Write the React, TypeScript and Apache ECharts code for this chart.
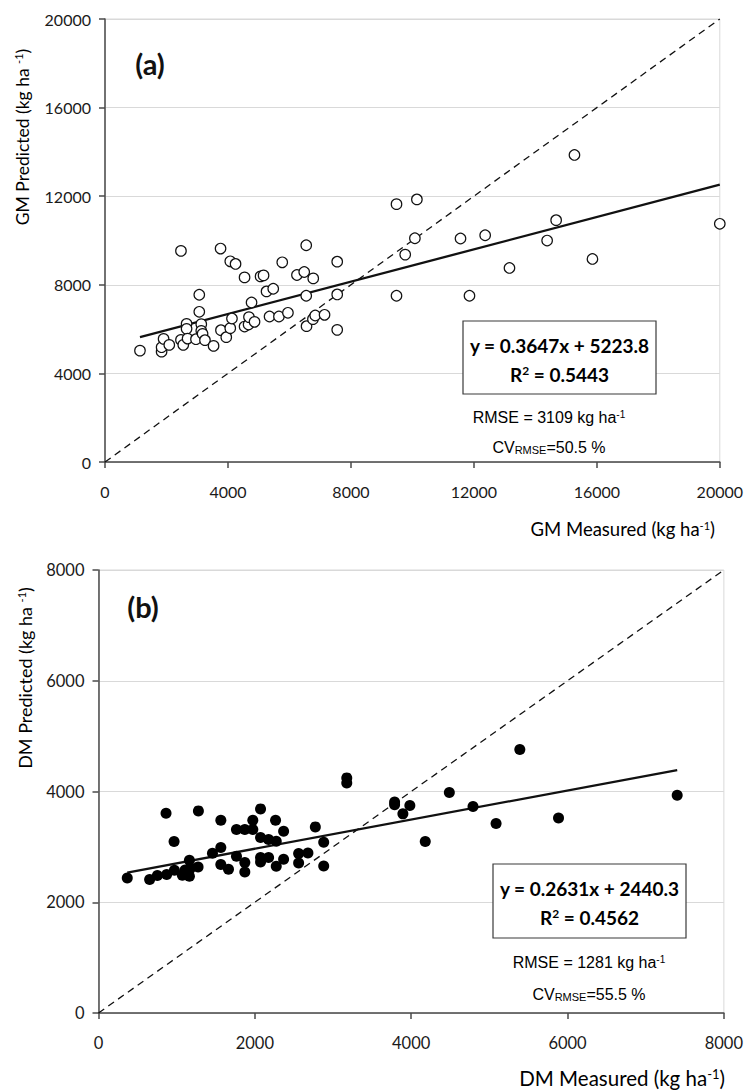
import React, { useEffect, useRef } from "react";
import * as echarts from "echarts";

// (a) Grain mass (GM), kg ha-1
const gmMeasured = [
  1138, 1841, 1841, 1906, 2091, 2471, 2471, 2546, 2654, 2654, 2686, 2959, 3067, 3067, 3132, 3132, 3174,
  3252, 3532, 3759, 3772, 3945, 4075, 4075, 4130, 4247, 4540, 4540, 4670, 4683, 4767, 4865, 5060, 5158,
  5255, 5473, 5353, 5658, 5766, 5951, 6244, 6481, 6546, 6546, 6556, 6774, 6764, 6839, 7142, 7554, 7554,
  7554, 9483, 9483, 9766, 10081, 10146, 11565, 11857, 12367, 13158, 14383, 14676, 15272, 15857, 20000,
];
const gmPredicted = [
  5028, 4983, 5183, 5558, 5287, 9531, 5513, 5287, 6238, 6011, 5572, 5545, 7551, 6781, 6224, 5921, 5785,
  5500, 5242, 9636, 5952, 5636, 9060, 6043, 6478, 8942, 8335, 6115, 6206, 6541, 7203, 6328, 8380, 8425,
  7701, 7823, 6568, 6568, 9015, 6736, 8443, 8579, 9785, 7506, 6133, 8289, 6450, 6613, 6645, 9045, 7565,
  5966, 11642, 7506, 9363, 10102, 11855, 10089, 7506, 10238, 8761, 9998, 10918, 13862, 9167, 10754,
];

// (b) Dry matter (DM), kg ha-1
const dmMeasured = [
  368, 654, 753, 864, 872, 967, 971, 1073, 1108, 1163, 1163, 1176, 1278, 1274, 1458, 1565, 1565, 1565,
  1663, 1765, 1765, 1872, 1872, 1872, 1974, 1974, 2073, 2073, 2073, 2073, 2176, 2176, 2265, 2274, 2274,
  2368, 2368, 2560, 2560, 2679, 2774, 2881, 2881, 3176, 3176, 3788, 3788, 3894, 3983, 4180, 4488, 4791,
  5086, 5390, 5885, 7403,
];
const dmPredicted = [
  2439, 2410, 2482, 3608, 2500, 3097, 2578, 2488, 2584, 2759, 2470, 2614, 3650, 2638, 2885, 3482, 2988,
  2681, 2596, 3313, 2831, 3313, 2717, 2548, 3482, 3313, 3686, 3169, 2807, 2728, 3133, 2807, 3482, 3102,
  2650, 3283, 2777, 2879, 2710, 2891, 3361, 3084, 2656, 4246, 4155, 3812, 3760, 3596, 3747, 3097, 3982,
  3729, 3422, 4759, 3523, 3933,
];

const gmAxis = { min: 0, max: 20000, interval: 4000 };
const dmAxis = { min: 0, max: 8000, interval: 2000 };

const gmFit = { slope: 0.3647, intercept: 5223.8, r2: "0.5443", rmse: "3109", cv: "50.5" };
const dmFit = { slope: 0.2631, intercept: 2440.3, r2: "0.4562", rmse: "1281", cv: "55.5" };

const AXIS_COLOR = "#4a4a4a";
const GRID_COLOR = "#d9d9d9";
const LABEL_FONT = "Lato";
const STAT_FONT = "Liberation Sans";

function fitLine(xs: number[], fit: { slope: number; intercept: number }) {
  const x0 = Math.min(...xs);
  const x1 = Math.max(...xs);
  return [
    [x0, fit.slope * x0 + fit.intercept],
    [x1, fit.slope * x1 + fit.intercept],
  ];
}

function makeAxis(range: { min: number; max: number; interval: number }, gridIndex: number, isX: boolean, fontSize: number) {
  return {
    type: "value",
    gridIndex,
    min: range.min,
    max: range.max,
    interval: range.interval,
    axisLine: { show: true, onZero: false, lineStyle: { color: AXIS_COLOR, width: 1.5 } },
    axisTick: { show: true, inside: false, length: 6, lineStyle: { color: AXIS_COLOR, width: 1.5 } },
    axisLabel: {
      color: "#1a1a1a",
      fontFamily: LABEL_FONT,
      fontSize,
      margin: isX ? 21 : 14,
      formatter: (v: number) => String(v),
    },
    splitLine: isX ? { show: false } : { show: true, lineStyle: { color: GRID_COLOR, width: 1 } },
  };
}

const nameRich = (size: number) => ({
  n: { fontFamily: LABEL_FONT, fontSize: size, color: "#1a1a1a" },
  s: { fontFamily: LABEL_FONT, fontSize: Math.round(size * 0.62), color: "#1a1a1a", verticalAlign: "top" },
});

const statRich = {
  n: { fontFamily: STAT_FONT, fontSize: 16, color: "#1a1a1a" },
  s: { fontFamily: STAT_FONT, fontSize: 10, color: "#1a1a1a", verticalAlign: "top" },
  d: { fontFamily: STAT_FONT, fontSize: 11, color: "#1a1a1a", verticalAlign: "bottom" },
};

const eqRich = {
  b: { fontFamily: LABEL_FONT, fontSize: 19, fontWeight: "bold", color: "#111" },
  s: { fontFamily: LABEL_FONT, fontSize: 12, fontWeight: "bold", color: "#111", verticalAlign: "top" },
};

function panelGraphics(p: {
  tag: string;
  tagX: number;
  tagY: number;
  box: { x: number; y: number; w: number; h: number };
  fit: { slope: number; intercept: number; r2: string; rmse: string; cv: string };
  statX: number;
  rmseY: number;
  cvY: number;
  yName: string;
  yNameX: number;
  yNameY: number;
  yNameSize: number;
  xName: string;
  xNameRight: number;
  xNameY: number;
  xNameSize: number;
}) {
  const cx = p.box.x + p.box.w / 2;
  return [
    {
      type: "text",
      x: p.tagX,
      y: p.tagY,
      style: {
        text: p.tag,
        fontFamily: LABEL_FONT,
        fontSize: 29,
        fontWeight: "bold",
        fill: "#111",
        align: "center",
        verticalAlign: "middle",
      },
    },
    {
      type: "rect",
      shape: { x: p.box.x, y: p.box.y, width: p.box.w, height: p.box.h },
      style: { fill: "#fff", stroke: "#3a3a3a", lineWidth: 1.2 },
      z: 10,
    },
    {
      type: "text",
      x: cx,
      y: p.box.y + 24,
      z: 11,
      style: {
        text: `{b|y = ${p.fit.slope}x + ${p.fit.intercept}}`,
        rich: eqRich,
        align: "center",
        verticalAlign: "middle",
      },
    },
    {
      type: "text",
      x: cx,
      y: p.box.y + 53,
      z: 11,
      style: {
        text: `{b|R}{s|2}{b| = ${p.fit.r2}}`,
        rich: eqRich,
        align: "center",
        verticalAlign: "middle",
      },
    },
    {
      type: "text",
      x: p.statX,
      y: p.rmseY,
      z: 11,
      style: {
        text: `{n|RMSE = ${p.fit.rmse} kg ha}{s|-1}`,
        rich: statRich,
        align: "center",
        verticalAlign: "middle",
      },
    },
    {
      type: "text",
      x: p.statX,
      y: p.cvY,
      z: 11,
      style: {
        text: `{n|CV}{d|RMSE}{n|=${p.fit.cv} %}`,
        rich: statRich,
        align: "center",
        verticalAlign: "middle",
      },
    },
    {
      type: "text",
      x: p.yNameX,
      y: p.yNameY,
      rotation: Math.PI / 2,
      style: {
        text: `{n|${p.yName} (kg ha }{s|-1}{n|)}`,
        rich: nameRich(p.yNameSize),
        align: "center",
        verticalAlign: "middle",
      },
    },
    {
      type: "text",
      x: p.xNameRight,
      y: p.xNameY,
      style: {
        text: `{n|${p.xName} (kg ha}{s|-1}{n|)}`,
        rich: nameRich(p.xNameSize),
        align: "right",
        verticalAlign: "middle",
      },
    },
  ];
}

export default function App() {
  const ref = useRef<HTMLDivElement>(null);

  useEffect(() => {
    if (!ref.current) return;
    const chart = echarts.init(ref.current, undefined, { renderer: "svg" });

    const gmPoints = gmMeasured.map((x, i) => [x, gmPredicted[i]]);
    const dmPoints = dmMeasured.map((x, i) => [x, dmPredicted[i]]);

    const option = {
      animation: false,
      backgroundColor: "#fff",
      grid: [
        { left: 105, top: 19, width: 616, height: 443, show: true, borderColor: GRID_COLOR, borderWidth: 1, backgroundColor: "transparent" },
        { left: 98.5, top: 570, width: 626.5, height: 443, show: true, borderColor: GRID_COLOR, borderWidth: 1, backgroundColor: "transparent" },
      ],
      xAxis: [makeAxis(gmAxis, 0, true, 16), makeAxis(dmAxis, 1, true, 16.5)],
      yAxis: [makeAxis(gmAxis, 0, false, 16), makeAxis(dmAxis, 1, false, 16.5)],
      series: [
        {
          type: "line",
          xAxisIndex: 0,
          yAxisIndex: 0,
          data: [
            [gmAxis.min, gmAxis.min],
            [gmAxis.max, gmAxis.max],
          ],
          symbol: "none",
          lineStyle: { color: "#111", width: 1.3, type: [7, 5] },
          z: 2,
          silent: true,
        },
        {
          type: "line",
          xAxisIndex: 0,
          yAxisIndex: 0,
          data: fitLine(gmMeasured, gmFit),
          symbol: "none",
          lineStyle: { color: "#111", width: 2.3 },
          z: 3,
          silent: true,
        },
        {
          type: "scatter",
          xAxisIndex: 0,
          yAxisIndex: 0,
          data: gmPoints,
          symbol: "circle",
          symbolSize: 10.5,
          itemStyle: { color: "#fff", borderColor: "#111", borderWidth: 1.2, opacity: 1 },
          z: 4,
        },
        {
          type: "line",
          xAxisIndex: 1,
          yAxisIndex: 1,
          data: [
            [dmAxis.min, dmAxis.min],
            [dmAxis.max, dmAxis.max],
          ],
          symbol: "none",
          lineStyle: { color: "#111", width: 1.3, type: [7, 5] },
          z: 2,
          silent: true,
        },
        {
          type: "line",
          xAxisIndex: 1,
          yAxisIndex: 1,
          data: fitLine(dmMeasured, dmFit),
          symbol: "none",
          lineStyle: { color: "#111", width: 2.3 },
          z: 3,
          silent: true,
        },
        {
          type: "scatter",
          xAxisIndex: 1,
          yAxisIndex: 1,
          data: dmPoints,
          symbol: "circle",
          symbolSize: 11,
          itemStyle: { color: "#000", opacity: 1 },
          z: 4,
        },
      ],
      graphic: [
        ...panelGraphics({
          tag: "(a)",
          tagX: 150,
          tagY: 63,
          box: { x: 463, y: 321, w: 193, h: 73 },
          fit: gmFit,
          statX: 549,
          rmseY: 417,
          cvY: 447,
          yName: "GM Predicted",
          yNameX: 22,
          yNameY: 137,
          yNameSize: 17.5,
          xName: "GM Measured",
          xNameRight: 715,
          xNameY: 529,
          xNameSize: 18.5,
        }),
        ...panelGraphics({
          tag: "(b)",
          tagX: 143,
          tagY: 606,
          box: { x: 493, y: 864, w: 193, h: 74 },
          fit: dmFit,
          statX: 589,
          rmseY: 962,
          cvY: 994,
          yName: "DM Predicted",
          yNameX: 25,
          yNameY: 678,
          yNameSize: 18,
          xName: "DM Measured",
          xNameRight: 725,
          xNameY: 1078,
          xNameSize: 20.5,
        }),
      ],
    };

    chart.setOption(option as any);
    return () => chart.dispose();
  }, []);

  return (
    <div
      ref={ref}
      style={{ position: "absolute", left: 0, top: 0, width: 746, height: 1090, background: "#fff" }}
    />
  );
}
